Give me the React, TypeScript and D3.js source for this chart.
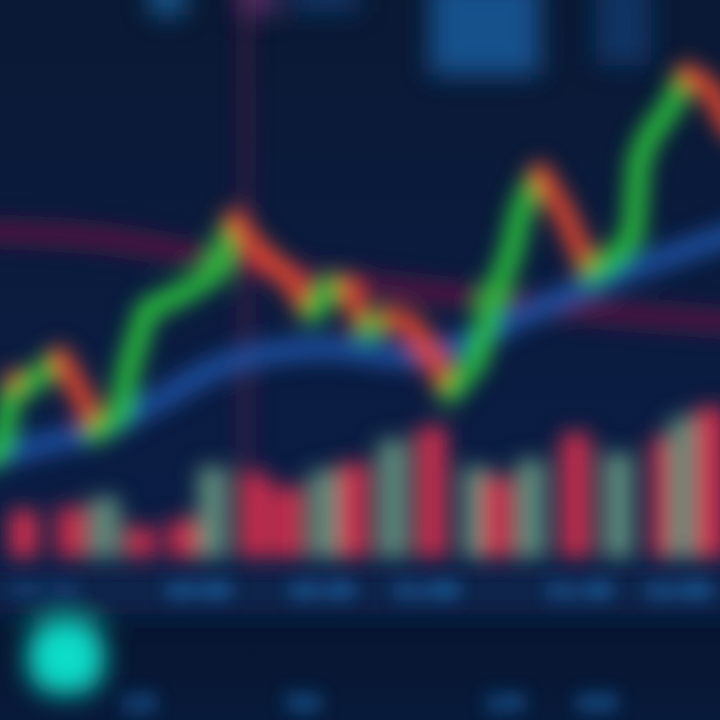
import React from 'react';
import * as d3 from 'd3';

// time in minutes from session open, price in arbitrary units
const priceTime = [-4, 0, 5, 9, 20, 28, 32, 40, 43, 49, 61, 72, 78, 86, 95, 104, 110, 116, 122, 130, 138, 145, 150, 159, 164, 170, 174, 180, 188, 191, 197, 205, 211, 213, 217, 223, 229, 237, 244];
const priceValue = [8, 10.6, 24, 22.6, 28.6, 20, 13.4, 17.4, 26.6, 38, 41.4, 45.4, 56, 50, 45.4, 37.4, 42, 42.6, 34, 36.6, 34.6, 27.4, 21.4, 28, 40, 48.6, 58.6, 65.4, 57.4, 53.4, 45.4, 48.6, 53, 68, 73.4, 78, 85.4, 82, 74];

const maTime = [-8, 0, 13, 33, 50, 77, 107, 137, 153, 177, 200, 222, 248];
const maValue = [8.5, 9, 11, 14, 19, 27.6, 30.4, 28.8, 31, 37.6, 43.6, 48.6, 54];

const slowTime = [-8, 0, 33, 67, 100, 133, 167, 200, 248];
const slowValue = [53.8, 53.6, 52.4, 49, 45, 42.4, 40, 37.6, 35.4];

const volTime = [8, 24, 35, 47, 61, 71, 85, 96, 108, 118, 131, 144, 159, 166, 177, 192, 206, 222, 228, 237];
const volValue = [60, 64, 76, 39, 48, 114, 106, 89, 110, 119, 148, 164, 114, 101, 123, 156, 131, 151, 176, 189];
const volUp = [false, false, true, false, false, true, false, false, true, false, true, false, true, false, true, false, true, false, true, false];

const axisTime = [15, 66, 107, 142, 193, 226];
const axisLabels = ['09:30', '10:00', '10:30', '11:00', '11:30', '12:00'];
const footTime = [46, 101, 168, 199];
const footLabels = ['1D', '5D', '1M', '6M'];

const W = 720;
const H = 720;

export default function App() {
  const x = d3.scaleLinear().domain([0, 240]).range([0, W]);
  const y = d3.scaleLinear().domain([0, 100]).range([500, 0]);
  const yVol = d3.scaleLinear().domain([0, 200]).range([558, 398]);

  const pts = priceTime.map((t, i) => [x(t), y(priceValue[i])] as [number, number]);
  const segs = pts.slice(1).map((p, i) => {
    const p0 = pts[i];
    const up = priceValue[i + 1] >= priceValue[i];
    return { p0, p1: p, up };
  });

  const curve = d3.line<number>().curve(d3.curveCatmullRom.alpha(0.5));
  const maPath = curve.x((_, i) => x(maTime[i])).y((v) => y(v))(maValue) || '';
  const curve2 = d3.line<number>().curve(d3.curveCatmullRom.alpha(0.5));
  const slowPath = curve2.x((_, i) => x(slowTime[i])).y((v) => y(v))(slowValue) || '';

  const barW = 30;

  return (
    <svg width={W} height={H} style={{ position: 'fixed', left: 0, top: 0, display: 'block' }}>
      <defs>
        <filter id="blur" filterUnits="userSpaceOnUse" x={-100} y={-100} width={920} height={920}>
          <feGaussianBlur stdDeviation="10.5" />
        </filter>
        <filter id="blurText" filterUnits="userSpaceOnUse" x={-100} y={-100} width={920} height={920}>
          <feGaussianBlur stdDeviation="9" />
        </filter>
        <filter id="blurBig" filterUnits="userSpaceOnUse" x={-100} y={-100} width={920} height={920}>
          <feGaussianBlur stdDeviation="13" />
        </filter>
        <linearGradient id="bg" x1="0" y1="0" x2="0" y2="1">
          <stop offset="0" stopColor="#0a1934" />
          <stop offset="0.5" stopColor="#0b1c41" />
          <stop offset="0.78" stopColor="#0a1d44" />
          <stop offset="0.88" stopColor="#071631" />
          <stop offset="1" stopColor="#081a3a" />
        </linearGradient>
      </defs>
      <rect x={0} y={0} width={W} height={H} fill="url(#bg)" />
      <g filter="url(#blurBig)">
        {/* axis strip */}
        <rect x={-40} y={568} width={W + 80} height={46} fill="#0b2550" opacity={0.8} />
        {/* top blobs */}
        <rect x={150} y={-20} width={35} height={35} fill="#1a6aa8" opacity={0.8} />
        <rect x={240} y={-20} width={35} height={35} fill="#6a3a78" opacity={0.8} />
        <rect x={290} y={-20} width={70} height={32} fill="#123f78" opacity={0.7} />
        <rect x={430} y={-20} width={110} height={95} fill="#1a5796" opacity={0.9} />
        <rect x={596} y={-20} width={55} height={85} fill="#143f78" opacity={0.7} />
        {/* cyan button */}
        <rect x={28} y={620} width={76} height={74} rx={30} fill="#10dcc8" />
      </g>
      <g filter="url(#blur)">
        {/* crosshair */}
        <line x1={x(82)} x2={x(82)} y1={-20} y2={480} stroke="#561a48" strokeWidth={7} />
        {/* volume bars */}
        {volTime.map((t, i) => (
          <rect
            key={i}
            x={x(t) - barW / 2}
            y={yVol(volValue[i])}
            width={barW}
            height={yVol(0) - yVol(volValue[i])}
            fill={volUp[i] ? '#5f8a7a' : '#c82f4e'}
          />
        ))}
        {/* slow average */}
        <path d={slowPath} fill="none" stroke="#5a1642" strokeWidth={20} opacity={0.95} />
        {/* fast average */}
        <path d={maPath} fill="none" stroke="#1d4f9e" strokeWidth={22} />
        {/* price */}
        {segs.map((s, i) => (
          <line
            key={i}
            x1={s.p0[0]}
            y1={s.p0[1]}
            x2={s.p1[0]}
            y2={s.p1[1]}
            stroke={s.up ? '#2bc43c' : '#e2472f'}
            strokeWidth={21}
            strokeLinecap="round"
          />
        ))}
      </g>
      <g filter="url(#blurText)">
        {axisTime.map((t, i) => (
          <text
            key={i}
            x={x(t)}
            y={598}
            textAnchor="middle"
            fontFamily="DejaVu Sans"
            fontWeight="bold"
            fontSize={21}
            fill="#2086d8"
            opacity={i === 0 ? 0.5 : 1}
          >
            {axisLabels[i]}
          </text>
        ))}
        {footTime.map((t, i) => (
          <text
            key={i}
            x={x(t)}
            y={712}
            textAnchor="middle"
            fontFamily="DejaVu Sans"
            fontWeight="bold"
            fontSize={24}
            fill="#2086d8"
            opacity={0.8}
          >
            {footLabels[i]}
          </text>
        ))}
      </g>
    </svg>
  );
}
